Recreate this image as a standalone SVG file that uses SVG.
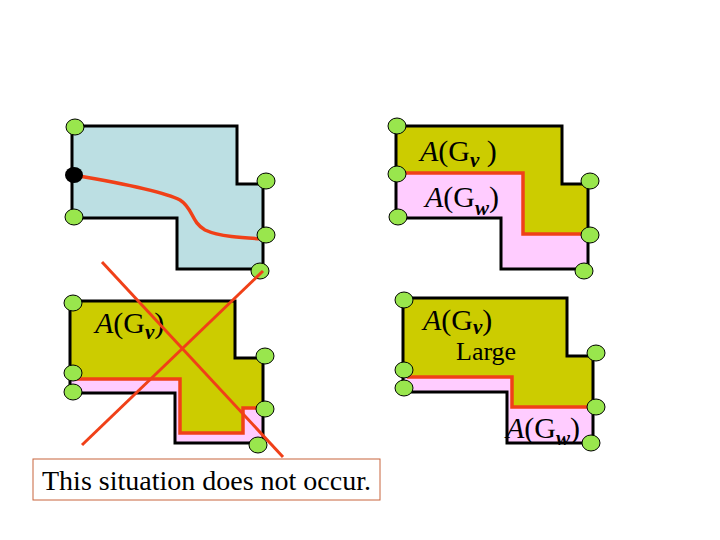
<svg xmlns="http://www.w3.org/2000/svg" width="720" height="540" viewBox="0 0 720 540">
<style>
.outline{fill:none;stroke:#000;stroke-width:3;stroke-linejoin:miter}
.olive{fill:#CCCC00}
.pink{fill:#FFCCFF}
.blue{fill:#BCDFE3}
.red{fill:none;stroke:#F04018;stroke-width:3.5}
.pt{fill:#99E64D;stroke:#000;stroke-width:1}
.lbl{font-family:"Liberation Serif","Times New Roman",serif;font-size:30px;fill:#000}
.sub{font-size:21px;font-style:italic;font-weight:bold}
.it{font-style:italic}
</style>
<rect width="720" height="540" fill="#fff"/>
<g id="panel1">
<path class="blue" d="M72,126 H237 V184 H263 V269 H177 V218 H72 Z"/>
<path class="red" d="M74,175 C120,183 165,192 180,200 C193,208 191,222 205,230 C220,237 245,238 264,239"/>
<path class="outline" d="M72,126 H237 V184 H263 V269 H177 V218 H72 Z"/>
<ellipse class="pt" cx="75" cy="127" rx="9" ry="8"/>
<ellipse cx="74" cy="175" rx="9" ry="8" fill="#000"/>
<ellipse class="pt" cx="74" cy="217" rx="9" ry="8"/>
<ellipse class="pt" cx="266" cy="181" rx="9" ry="8"/>
<ellipse class="pt" cx="266" cy="235" rx="9" ry="8"/>
<ellipse class="pt" cx="260" cy="271" rx="9" ry="8"/>
</g>
<g id="panel2">
<path class="pink" d="M396,126 H562 V184 H588 V269 H501 V218 H396 Z"/>
<path class="olive" d="M396,126 H562 V184 H588 V234 H523 V173 H396 Z"/>
<path class="red" d="M396,173 H523 V234 H588"/>
<path class="outline" d="M396,126 H562 V184 H588 V269 H501 V218 H396 Z"/>
<text class="lbl" x="420" y="161"><tspan class="it">A</tspan>(G<tspan class="sub" dy="6">v</tspan><tspan dy="-6"> )</tspan></text>
<text class="lbl" x="425" y="207"><tspan class="it">A</tspan>(G<tspan class="sub" dy="8">w</tspan><tspan dy="-8">)</tspan></text>
<ellipse class="pt" cx="397" cy="126" rx="9" ry="8"/>
<ellipse class="pt" cx="397" cy="174" rx="9" ry="8"/>
<ellipse class="pt" cx="398" cy="217" rx="9" ry="8"/>
<ellipse class="pt" cx="590" cy="181" rx="9" ry="8"/>
<ellipse class="pt" cx="590" cy="235" rx="9" ry="8"/>
<ellipse class="pt" cx="584" cy="271" rx="9" ry="8"/>
</g>
<g id="panel3">
<path class="pink" d="M70,301 H235 V358 H263 V443 H175 V393 H70 Z"/>
<path class="olive" d="M70,301 H235 V358 H263 V408 H243 V433 H180 V379 H70 Z"/>
<path class="red" d="M74,379 H180 V433 H243 V408 H263"/>
<path class="outline" d="M70,301 H235 V358 H263 V443 H175 V393 H70 Z"/>
<text class="lbl" x="95" y="333"><tspan class="it">A</tspan>(G<tspan class="sub" dy="6">v</tspan><tspan dy="-6">)</tspan></text>
<ellipse class="pt" cx="73" cy="303" rx="9" ry="8"/>
<ellipse class="pt" cx="73" cy="373" rx="9" ry="8"/>
<ellipse class="pt" cx="73" cy="392" rx="9" ry="8"/>
<ellipse class="pt" cx="265" cy="356" rx="9" ry="8"/>
<ellipse class="pt" cx="265" cy="409" rx="9" ry="8"/>
<ellipse class="pt" cx="258" cy="445" rx="9" ry="8"/>
</g>
<g id="panel4">
<path class="pink" d="M403,298 H567 V356 H593 V443 H507 V392 H403 Z"/>
<path class="olive" d="M403,298 H567 V356 H593 V407 H512 V377 H403 Z"/>
<path class="red" d="M407,377 H512 V407 H593"/>
<path class="outline" d="M403,298 H567 V356 H593 V443 H507 V392 H403 Z"/>
<text class="lbl" x="423" y="330"><tspan class="it">A</tspan>(G<tspan class="sub" dy="4">v</tspan><tspan dy="-4">)</tspan></text>
<text class="lbl" x="456" y="360" style="font-size:26px">Large</text>
<text class="lbl" x="506" y="438"><tspan class="it">A</tspan>(G<tspan class="sub" dy="7">w</tspan><tspan dy="-7">)</tspan></text>
<ellipse class="pt" cx="404" cy="300" rx="9" ry="8"/>
<ellipse class="pt" cx="404" cy="370" rx="9" ry="8"/>
<ellipse class="pt" cx="404" cy="388" rx="9" ry="8"/>
<ellipse class="pt" cx="596" cy="353" rx="9" ry="8"/>
<ellipse class="pt" cx="596" cy="407" rx="9" ry="8"/>
<ellipse class="pt" cx="591" cy="443" rx="9" ry="8"/>
</g>
<g id="connectors">
<line x1="102" y1="262" x2="283" y2="457" stroke="#F04018" stroke-width="3"/>
<line x1="263" y1="271" x2="82" y2="445" stroke="#F04018" stroke-width="3"/>
</g>
<g id="note">
<rect x="33" y="459" width="347" height="41" fill="#fff" stroke="#C8643C" stroke-width="1"/>
<text class="lbl" x="42" y="490" style="font-size:28px">This situation does not occur.</text>
</g>
</svg>
